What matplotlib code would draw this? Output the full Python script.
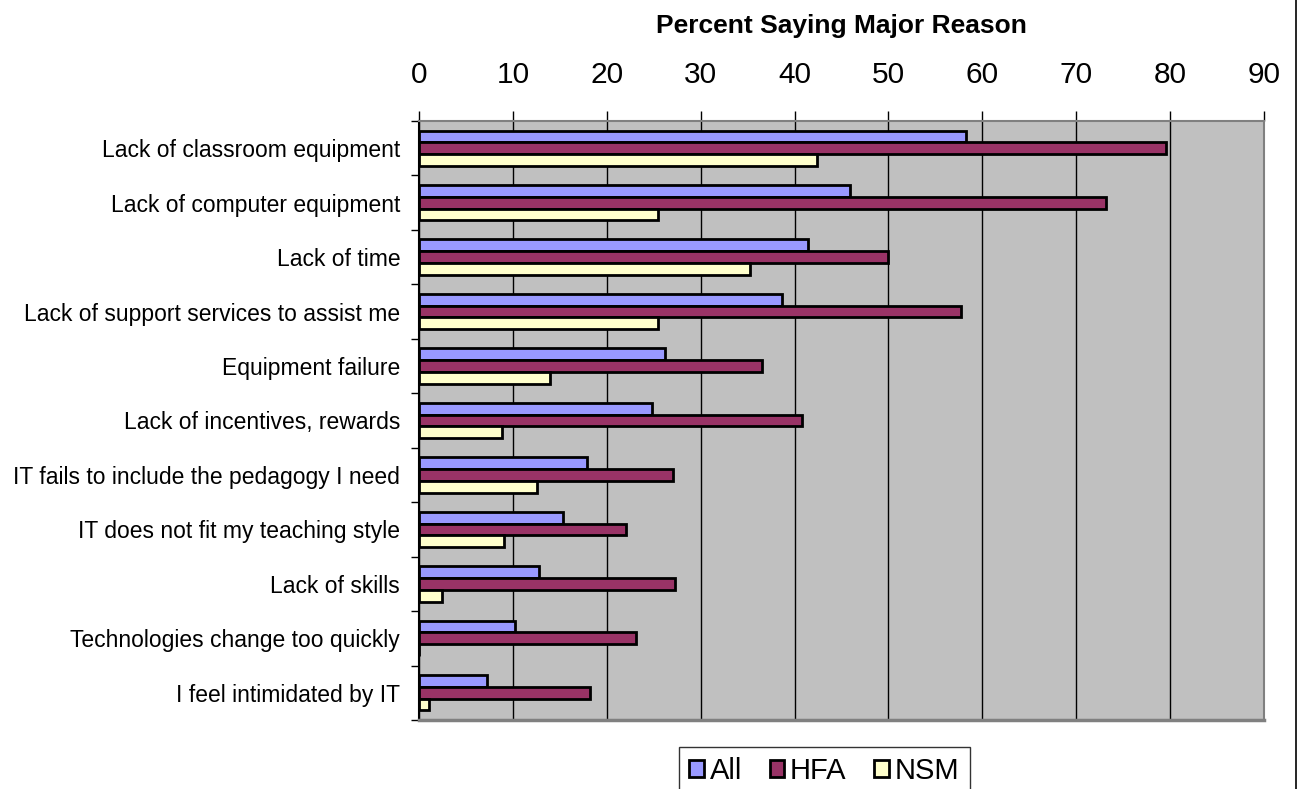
import matplotlib
matplotlib.use("Agg")
import matplotlib.pyplot as plt
import numpy as np
from matplotlib.lines import Line2D

plt.rcParams['font.family'] = ['Liberation Sans', 'DejaVu Sans']

categories = [
    "Lack of classroom equipment",
    "Lack of computer equipment",
    "Lack of time",
    "Lack of support services to assist me",
    "Equipment failure",
    "Lack of incentives, rewards",
    "IT fails to include the pedagogy I need",
    "IT does not fit my teaching style",
    "Lack of skills",
    "Technologies change too quickly",
    "I feel intimidated by IT",
]
series_names = ["All", "HFA", "NSM"]
all_values = [58.3, 45.9, 41.4, 38.7, 26.2, 24.8, 17.9, 15.3, 12.8, 10.2, 7.2]
hfa_values = [79.6, 73.2, 49.9, 57.7, 36.5, 40.8, 27.0, 22.1, 27.3, 23.1, 18.2]
nsm_values = [42.4, 25.5, 35.3, 25.5, 14.0, 8.8, 12.6, 9.0, 2.5, 0.0, 1.1]
x_ticks = [0, 10, 20, 30, 40, 50, 60, 70, 80, 90]

colors = ["#9999FF", "#993366", "#FFFFCC"]

W, H = 1298, 789
fig = plt.figure(figsize=(W / 100, H / 100), dpi=100)
ax = fig.add_axes([419 / W, 1 - 720 / H, 845 / W, 599 / H])
ax.set_facecolor("#C0C0C0")

y = np.arange(len(categories))
bar_h = 0.217
for i, (vals, col, name) in enumerate(zip([all_values, hfa_values, nsm_values], colors, series_names)):
    ax.barh(y + (i - 1) * bar_h, vals, height=bar_h, color=col,
            edgecolor="black", linewidth=2.0, label=name, zorder=3)

ax.set_xlim(0, 90)
ax.set_ylim(len(categories) - 0.5, -0.5)

# value axis along the top
ax.xaxis.set_ticks_position("top")
ax.set_xticks(x_ticks)
ax.set_xticklabels([str(v) for v in x_ticks], fontsize=21.5)
ax.tick_params(axis="x", direction="out", length=7.5, width=1, color="black", pad=15.5)
ax.grid(axis="x", color="black", linewidth=1, zorder=1)
ax.set_axisbelow(True)

# category labels at centers, tick marks at the boundaries
ax.set_yticks(y)
ax.set_yticklabels(categories, fontsize=16.5)
ax.tick_params(axis="y", which="major", length=0, pad=13.5)
ax.set_yticks(np.arange(len(categories) + 1) - 0.5, minor=True)
ax.tick_params(axis="y", which="minor", length=5.5, width=1, color="black", direction="out")

ax.spines["left"].set_color("black")
ax.spines["left"].set_linewidth(1.5)
for s in ["top", "right"]:
    ax.spines[s].set_color("#808080")
    ax.spines[s].set_linewidth(1.5)
ax.spines["bottom"].set_color("#808080")
ax.spines["bottom"].set_linewidth(2.5)

fig.text(841.5 / W, 1 - 26 / H, "Percent Saying Major Reason", ha="center", va="center",
         fontsize=19, fontweight="bold")

leg = fig.legend(loc="upper left", bbox_to_anchor=(679 / W, 1 - 747 / H), ncol=3,
                 fontsize=21, frameon=True, fancybox=False, edgecolor="black",
                 handlelength=0.5, handleheight=0.52, handletextpad=0.2, columnspacing=0.95,
                 borderpad=0.35, borderaxespad=0)
leg.get_frame().set_linewidth(1)
for patch in leg.get_patches():
    patch.set_linewidth(2.0)

# outer chart frame on the right
fig.add_artist(Line2D([1296 / W, 1296 / W], [0, 1], transform=fig.transFigure,
                      color="black", linewidth=1.2))

fig.savefig("out.png", dpi=100)
